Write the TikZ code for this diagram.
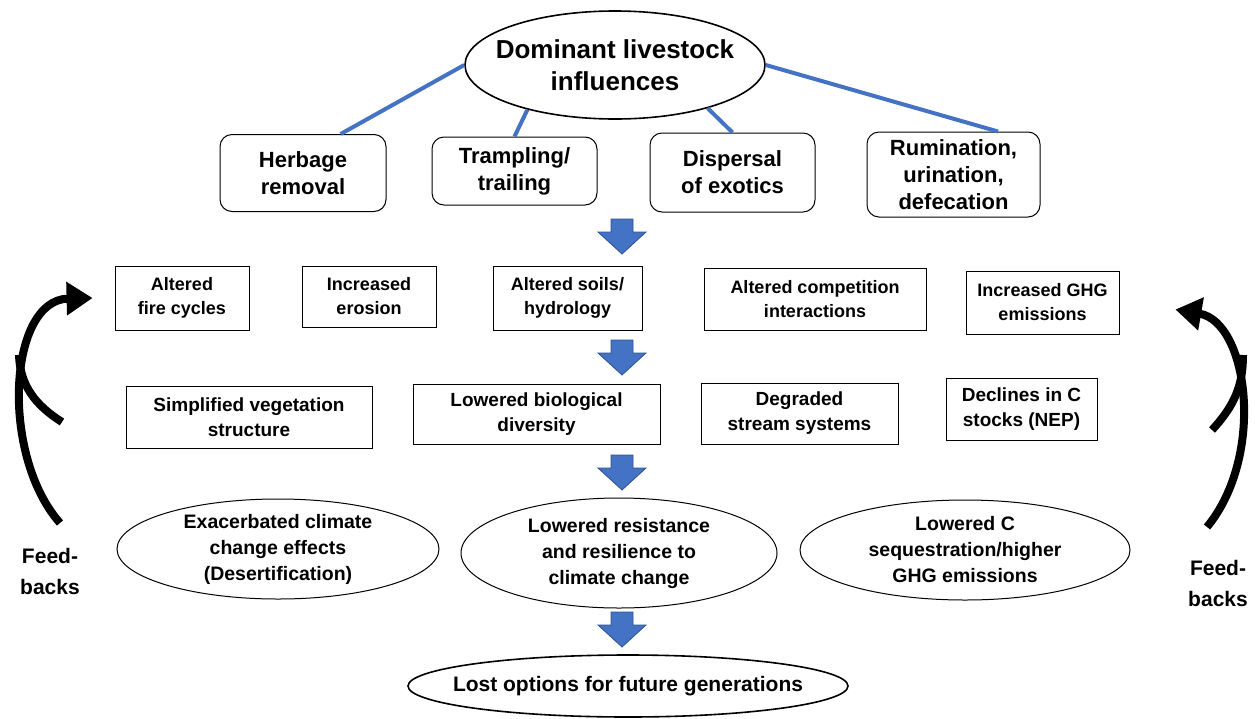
\documentclass[tikz,border=0pt]{standalone}
\usepackage{fontspec}
\setmainfont{Liberation Sans}
\usepackage{tikz}
\usetikzlibrary{positioning,arrows.meta,shapes.geometric}

\definecolor{linkblue}{RGB}{68,114,196}
\definecolor{arrowedge}{RGB}{47,82,143}

% block arrow pointing down, top centre at (#1,#2)
\newcommand{\blockdown}[2]{%
  \filldraw[fill=linkblue, draw=arrowedge, line width=0.8pt]
    (#1-11,#2) -- (#1+11,#2) -- (#1+11,#2+13) -- (#1+24,#2+13)
    -- (#1,#2+35) -- (#1-24,#2+13) -- (#1-11,#2+13) -- cycle;}

\begin{document}
\begin{tikzpicture}[x=1pt,y=-1pt,
  every node/.style={font=\bfseries, align=center, inner sep=0pt},
  oval/.style={ellipse, draw, line width=1.6pt},
  rbox/.style={draw, rounded corners=12pt, line width=1pt},
  sbox/.style={draw, line width=0.8pt},
  link/.style={linkblue, line width=4pt},
  fback/.style={line width=8pt, -{Triangle[length=26pt,width=32pt]}},
  fbranch/.style={line width=8pt}]
  \useasboundingbox (0,0) rectangle (1255,718);

  % --- Top ---
  \node[oval, inner xsep=-14pt, minimum width=300pt, minimum height=108pt,
        font=\bfseries\fontsize{26}{32}\selectfont] (top) at (615,65)
        {Dominant livestock\\influences};

  % --- Influences ---
  \tikzset{every node/.append style={font=\bfseries\fontsize{22}{27}\selectfont}}
  \node[rbox, minimum width=166pt, minimum height=77pt] (herb) at (303,173) {Herbage\\removal};
  \node[rbox, minimum width=165pt, minimum height=68pt] (tramp) at (514.5,171) {Trampling/\\trailing};
  \node[rbox, minimum width=165pt, minimum height=79pt] (disp) at (732.5,172.5) {Dispersal\\of exotics};
  \node[rbox, minimum width=173pt, minimum height=85pt] (rumi) at (953.5,174.5) {Rumination,\\urination,\\defecation};

  \draw[link] (top.west) -- (herb.46);
  \draw[link] (top.207) -- (tramp.north);
  \draw[link] (top.335) -- (disp.north);
  \draw[link] (top.east) -- (rumi.44);

  % --- Direct effects ---
  \tikzset{every node/.append style={font=\bfseries\fontsize{18}{24}\selectfont}}
  \node[sbox, minimum width=134pt, minimum height=64pt] (fire) at (182,298) {Altered\\fire cycles};
  \node[sbox, minimum width=134pt, minimum height=61pt] (erosion) at (369,296.5) {Increased\\erosion};
  \node[sbox, minimum width=149pt, minimum height=64pt] (soils) at (567.5,298) {Altered soils/\\hydrology};
  \node[sbox, minimum width=222pt, minimum height=62pt] (compet) at (815,299) {Altered competition\\interactions};
  \node[sbox, minimum width=153pt, minimum height=63pt] (ghg) at (1042.5,302.5) {Increased GHG\\emissions};

  % --- Ecosystem effects ---
  \tikzset{every node/.append style={font=\bfseries\fontsize{19}{25}\selectfont}}
  \node[sbox, minimum width=246pt, minimum height=62pt] (simpl) at (249,417) {Simplified vegetation\\structure};
  \node[sbox, minimum width=247pt, minimum height=60pt] (biodiv) at (536.5,414) {Lowered biological\\diversity};
  \node[sbox, minimum width=197pt, minimum height=61pt] (stream) at (799.5,413.5) {Degraded\\stream systems};
  \node[sbox, minimum width=151pt, minimum height=62pt] (cstock) at (1021.5,409) {Declines in C\\stocks (NEP)};

  % --- Consequences ---
  \tikzset{every node/.append style={font=\bfseries\fontsize{19.5}{26}\selectfont}}
  \node[oval, line width=1pt, minimum width=322pt, minimum height=100pt] (exacer) at (278,549)
        {Exacerbated climate\\change effects\\(Desertification)};
  \node[oval, line width=1pt, minimum width=316pt, minimum height=110pt] (resist) at (619,553)
        {Lowered resistance\\and resilience to\\climate change};
  \node[oval, line width=1pt, minimum width=330pt, minimum height=100pt] (cseq) at (965,550)
        {Lowered C\\sequestration/higher\\GHG emissions};

  \node[oval, inner xsep=-21pt, minimum width=440pt, minimum height=62pt,
        font=\bfseries\fontsize{21}{26}\selectfont] (lost) at (628,686)
        {Lost options for future generations};

  % block arrows between the levels
  \blockdown{622}{219}
  \blockdown{622}{340}
  \blockdown{622}{455}
  \blockdown{622}{612}

  % --- Feedbacks ---
  \tikzset{every node/.append style={font=\bfseries\fontsize{21}{31}\selectfont}}
  \node (fbleft) at (50,571) {Feed-\\backs};
  \node (fbright) at (1218,583) {Feed-\\backs};

  \coordinate (fbLtip) at ([xshift=-22pt]fire.west);
  \coordinate (fbRtip) at ([shift={(56,7)}]ghg.east);
  \draw[fback] (60,523) .. controls (0,455) and (8,300) .. (fbLtip);
  \draw[fbranch] (62,422) .. controls (35,405) and (20,385) .. (19,355);
  \draw[fback] (1207,527) .. controls (1266,455) and (1248,322) .. (fbRtip);
  \draw[fbranch] (1212,430) .. controls (1235,405) and (1243,385) .. (1243,355);
\end{tikzpicture}
\end{document}
